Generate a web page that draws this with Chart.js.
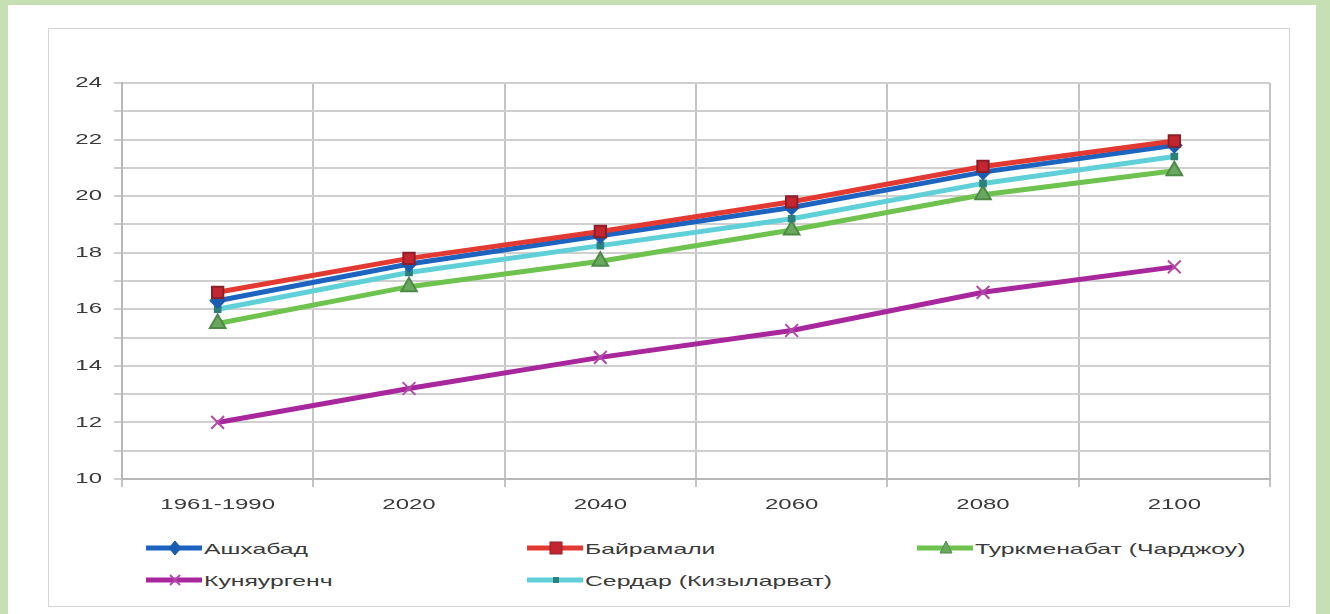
<!DOCTYPE html>
<html><head><meta charset="utf-8">
<script src="https://cdn.jsdelivr.net/npm/chart.js@4/dist/chart.umd.min.js"></script>
<style>
html,body{margin:0;padding:0;background:#c6e0b4;width:1330px;height:614px;overflow:hidden;font-family:"Liberation Sans",Arial,sans-serif;}
#panel{position:absolute;left:8px;top:5px;width:1308px;height:615px;background:#fff;}
#box{position:absolute;left:48px;top:28px;width:1242px;height:579px;border:1px solid #d4d4d4;box-sizing:border-box;}
#cvwrap{position:absolute;left:48px;top:28px;width:1242px;height:502px;}
.lg{position:absolute;display:flex;align-items:center;font-size:15px;color:#3a3a3a;height:20px;}
.lg svg{margin-right:2px;flex:none;}
.lg span{display:inline-block;transform:scaleX(1.65);transform-origin:left center;white-space:nowrap;}
</style></head><body>
<div id="panel"></div>
<div id="box"></div>
<div id="cvwrap"><canvas id="cv"></canvas></div>
<div id="legend"></div>
<script>
const categories = ["1961-1990","2020","2040","2060","2080","2100"];
const ashgabat   = [16.3, 17.6, 18.6, 19.6, 20.85, 21.8];
const bayramaly  = [16.6, 17.8, 18.75, 19.8, 21.05, 21.95];
const turkmenabat= [15.5, 16.8, 17.7, 18.8, 20.05, 20.9];
const konyeurgench=[12.0, 13.2, 14.3, 15.25, 16.6, 17.5];
const serdar     = [16.0, 17.3, 18.25, 19.2, 20.45, 21.4];
const yTicks = [10,12,14,16,18,20,22,24];
const names = ["Ашхабад","Байрамали","Туркменабат (Чарджоу)","Куняургенч","Сердар (Кизыларват)"];

const series = [
  {label:names[0], data:ashgabat, borderColor:"#1c64c0", backgroundColor:"#1a5cb0", pointStyle:"rectRot", pointRadius:7, pointBorderColor:"#1a5cb0"},
  {label:names[1], data:bayramaly, borderColor:"#e23a32", backgroundColor:"#c32630", pointStyle:"rect", pointRadius:8, pointBorderColor:"#8e1e2a"},
  {label:names[2], data:turkmenabat, borderColor:"#6ec24e", backgroundColor:"#6aa860", pointStyle:"triangle", pointRadius:9, pointBorderColor:"#4e8a47"},
  {label:names[3], data:konyeurgench, borderColor:"#a8279c", backgroundColor:"#a8279c", pointStyle:"crossRot", pointRadius:9, pointBorderColor:"#b04aa8"},
  {label:names[4], data:serdar, borderColor:"#5fd0d8", backgroundColor:"#2f7f7a", pointStyle:"rect", pointRadius:4, pointBorderColor:"#2f7f7a"}
];
const order = [3,2,4,0,1];
const datasets = series.map((s,i)=>({
  label:s.label, data:s.data, borderColor:s.borderColor, backgroundColor:s.backgroundColor,
  pointStyle:s.pointStyle, pointRadius:s.pointRadius, pointBorderColor:s.pointBorderColor,
  pointBorderWidth:2, borderWidth:5, tension:0, order:10-order.indexOf(i)
}));

const STRETCH = 1.6;
const labelFont = '15px "Liberation Sans", Arial, sans-serif';
// draws the axis tick labels horizontally stretched, positioned by the chart's own scales
const stretchedLabels = {
  id:'stretchedLabels',
  afterDraw(chart){
    const ctx = chart.ctx, xs = chart.scales.x, ys = chart.scales.y;
    ctx.save();
    ctx.font = labelFont; ctx.fillStyle = '#3a3a3a'; ctx.textBaseline = 'middle';
    xs.ticks.forEach((t,i)=>{
      const px = xs.getPixelForTick(i);
      ctx.save(); ctx.translate(px, xs.top + 26); ctx.scale(STRETCH,1);
      ctx.textAlign='center'; ctx.fillText(categories[i],0,0); ctx.restore();
    });
    yTicks.forEach(v=>{
      const py = ys.getPixelForValue(v);
      ctx.save(); ctx.translate(ys.right - 20, py); ctx.scale(STRETCH,1);
      ctx.textAlign='right'; ctx.fillText(String(v),0,0); ctx.restore();
    });
    ctx.restore();
  }
};

new Chart(document.getElementById('cv'),{
  type:'line',
  data:{labels:categories, datasets},
  plugins:[stretchedLabels],
  options:{
    responsive:true, maintainAspectRatio:false, animation:false,
    layout:{padding:{top:55,right:20,left:0,bottom:0}},
    plugins:{legend:{display:false},tooltip:{enabled:false}},
    scales:{
      x:{
        offset:true,
        grid:{offset:true,color:"#c4c4c4",lineWidth:2,tickLength:8,drawTicks:true},
        border:{color:"#b8b8b8",width:2},
        ticks:{color:"rgba(0,0,0,0)",font:{family:"Liberation Sans",size:15},padding:10,maxRotation:0},
        afterFit:s=>{s.height=51;}
      },
      y:{
        min:10,max:24,
        grid:{color:"#cfcfcf",lineWidth:2,tickLength:8},
        border:{color:"#b8b8b8",width:2},
        ticks:{stepSize:1,color:"rgba(0,0,0,0)",font:{family:"Liberation Sans",size:15},padding:8,
          callback:v=>yTicks.includes(v)?String(v):""},
        afterFit:s=>{s.width=74;}
      }
    }
  }
});

const pos = [[146,538],[527,538],[917,538],[146,570],[527,570]];
const lg = document.getElementById('legend');
series.forEach((s,i)=>{
  const d=document.createElement('div'); d.className='lg';
  d.style.left=pos[i][0]+'px'; d.style.top=pos[i][1]+'px';
  let m='';
  const c=s.backgroundColor, b=s.pointBorderColor;
  if(s.pointStyle==='rectRot') m=`<polygon points="29,3 35,10 29,17 23,10" fill="${c}" stroke="${b}"/>`;
  else if(s.pointStyle==='rect' && i===1) m=`<rect x="23" y="4" width="12" height="12" fill="${c}" stroke="${b}"/>`;
  else if(s.pointStyle==='triangle') m=`<polygon points="29,3 35,15 23,15" fill="${c}" stroke="${b}"/>`;
  else if(s.pointStyle==='crossRot') m=`<path d="M24,5 L34,15 M34,5 L24,15" stroke="${b}" stroke-width="2"/>`;
  else m=`<rect x="26" y="7" width="6" height="6" fill="${c}"/>`;
  d.innerHTML=`<svg width="56" height="20"><line x1="0" y1="10" x2="56" y2="10" stroke="${s.borderColor}" stroke-width="5"/>${m}</svg><span>${s.label}</span>`;
  lg.appendChild(d);
});
</script>
</body></html>
